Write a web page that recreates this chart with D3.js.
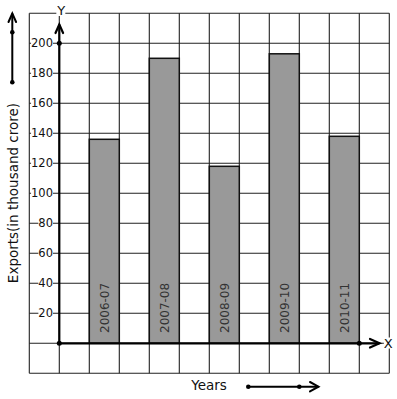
<!DOCTYPE html>
<html>
<head>
<meta charset="utf-8">
<script src="https://cdn.jsdelivr.net/npm/d3@7"></script>
<style>
  html, body { margin: 0; padding: 0; background: #fff; }
  text { font-family: "DejaVu Sans", sans-serif; }
</style>
</head>
<body>
<div id="chart"></div>
<script>
// data
var years = ['2006-07', '2007-08', '2008-09', '2009-10', '2010-11'];
var exports = [136, 190, 118, 193, 138];
var yTicks = [20, 40, 60, 80, 100, 120, 140, 160, 180, 200];

var svg = d3.select('#chart').append('svg')
    .attr('width', 397)
    .attr('height', 399);

// scales
var y = d3.scaleLinear().domain([0, 200]).range([343.3, 43.3]);
var col = d3.scaleLinear().domain([0, 12]).range([29.3, 389.3]);
var x = d3.scaleBand().domain(years).range([59.3, 389.3])
    .paddingInner(0.5).paddingOuter(0.5);

// the squared paper
var grid = svg.append('g').attr('stroke', '#222').attr('stroke-width', 1.1);
grid.selectAll('line.h').data(d3.range(-20, 221, 20)).enter().append('line')
    .attr('x1', col(0)).attr('x2', col(12))
    .attr('y1', function(d) { return y(d); })
    .attr('y2', function(d) { return y(d); });
grid.selectAll('line.v').data(d3.range(0, 13)).enter().append('line')
    .attr('y1', y(220)).attr('y2', y(-20))
    .attr('x1', function(d) { return col(d); })
    .attr('x2', function(d) { return col(d); });

// bars
svg.append('g').selectAll('rect').data(exports).enter().append('rect')
    .attr('x', function(d, i) { return x(years[i]); })
    .attr('width', x.bandwidth())
    .attr('y', function(d) { return y(d); })
    .attr('height', function(d) { return y(0) - y(d); })
    .attr('fill', '#999')
    .attr('stroke', '#111')
    .attr('stroke-width', 1.5);

// year labels inside the bars
svg.append('g').selectAll('text').data(years).enter().append('text')
    .attr('transform', function(d) {
        return 'translate(' + (x(d) + x.bandwidth() / 2 + 4.5) + ',333) rotate(-90)';
    })
    .attr('font-size', 12)
    .attr('fill', '#333')
    .text(function(d) { return d; });

// white-backed text helper
function label(g, txt, px, py, size, anchor) {
    var t = g.append('text')
        .attr('x', px).attr('y', py)
        .attr('font-size', size)
        .attr('text-anchor', anchor)
        .attr('fill', '#111')
        .text(txt);
    var b = t.node().getBBox();
    g.insert('rect', function() { return t.node(); })
        .attr('x', b.x).attr('y', b.y + 2)
        .attr('width', b.width).attr('height', b.height - 4)
        .attr('fill', '#fff');
    return t;
}

// y tick labels
var ticks = svg.append('g');
yTicks.forEach(function(v) {
    label(ticks, v, 53, y(v) + 4, 11.5, 'end');
});

// axes
var axes = svg.append('g').attr('stroke', '#000').attr('fill', 'none')
    .attr('stroke-width', 2.2).attr('stroke-linecap', 'round');
axes.append('line').attr('x1', 59.3).attr('x2', 59.3).attr('y1', y(0)).attr('y2', 25);
axes.append('path').attr('d', 'M55.5,33L59.3,24.5L63.1,33');
axes.append('line').attr('x1', 59.3).attr('x2', 379).attr('y1', y(0)).attr('y2', y(0));
axes.append('path').attr('d', 'M370,339L379.5,343.3L370,347.6');

svg.selectAll('circle.axis').data([[59.3, y(0)], [59.3, y(200)], [359.3, y(0)]])
    .enter().append('circle')
    .attr('cx', function(d) { return d[0]; })
    .attr('cy', function(d) { return d[1]; })
    .attr('r', 2.5).attr('fill', '#000');

label(svg, 'Y', 61.3, 15, 13, 'middle');
label(svg, 'X', 388.3, 347.5, 13, 'middle');

// axis titles
svg.append('text')
    .attr('transform', 'translate(18,193) rotate(-90)')
    .attr('text-anchor', 'middle')
    .attr('font-size', 13.5)
    .attr('fill', '#111')
    .text('Exports(in thousand crore)');

svg.append('text')
    .attr('x', 209).attr('y', 390)
    .attr('text-anchor', 'middle')
    .attr('font-size', 13.5)
    .attr('fill', '#111')
    .text('Years');

// decorative direction arrows
var deco = svg.append('g').attr('stroke', '#000').attr('fill', 'none')
    .attr('stroke-width', 2).attr('stroke-linecap', 'round');
deco.append('line').attr('x1', 12.3).attr('x2', 12.3).attr('y1', 82).attr('y2', 14);
deco.append('path').attr('d', 'M8.5,22L12.3,13.5L16.1,22');
deco.append('line').attr('x1', 248).attr('x2', 318).attr('y1', 386.7).attr('y2', 386.7);
deco.append('path').attr('d', 'M310,382L318.5,386.7L310,391.4');

svg.selectAll('circle.deco').data([[12.3, 32.3], [12.3, 82.3], [248.3, 386.7], [299.3, 386.7]])
    .enter().append('circle')
    .attr('cx', function(d) { return d[0]; })
    .attr('cy', function(d) { return d[1]; })
    .attr('r', 2.3).attr('fill', '#000');
</script>
</body>
</html>
